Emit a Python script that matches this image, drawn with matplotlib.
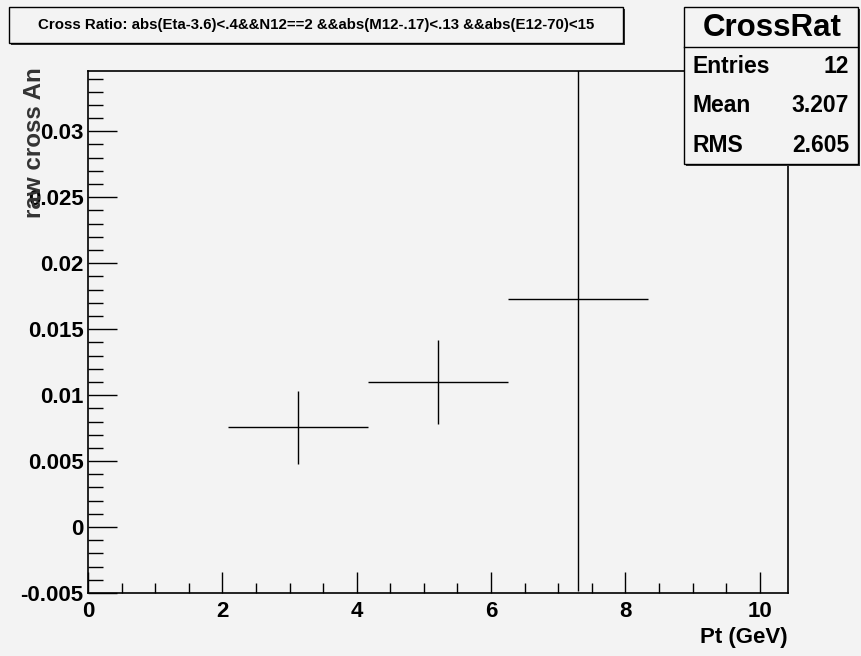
import numpy as np
import matplotlib.pyplot as plt
from matplotlib.patches import Rectangle
from matplotlib.ticker import MultipleLocator

plt.rcParams['font.family'] = ['Liberation Sans', 'DejaVu Sans']
plt.rcParams['font.weight'] = 'bold'

# data (bin centres, half widths, contents, errors)
pt_centres = [3.125, 5.21, 7.29]
pt_halfwidth = [1.04, 1.04, 1.04]
ratio = [0.00755, 0.0110, 0.01727]
ratio_err = [0.00275, 0.0032, 0.0221]

title = "Cross Ratio: abs(Eta-3.6)<.4&&N12==2 &&abs(M12-.17)<.13 &&abs(E12-70)<15"
stat_names = ["Entries", "Mean", "RMS"]
stat_values = ["12", "3.207", "2.605"]

W, H = 862, 656
bg = '#f3f3f3'
fig = plt.figure(figsize=(W/100, H/100), dpi=100, facecolor=bg)

def px(x, y):
    return x / W, 1 - y / H

def box(x0, y0, x1, y1, shadow=2):
    fig.patches.append(Rectangle(px(x0 + shadow, y1 + shadow), (x1 - x0)/W, (y1 - y0)/H,
                                 transform=fig.transFigure, facecolor='#333333',
                                 edgecolor='none'))
    fig.patches.append(Rectangle(px(x0, y1), (x1 - x0)/W, (y1 - y0)/H,
                                 transform=fig.transFigure, facecolor=bg,
                                 edgecolor='black', lw=1))

l, t, r, b = 88, 71, 788, 593
ax = fig.add_axes([l/W, 1 - b/H, (r-l)/W, (b-t)/H], facecolor=bg)
ax.errorbar(pt_centres, ratio, xerr=pt_halfwidth, yerr=ratio_err,
            fmt='none', ecolor='black', elinewidth=1, capsize=0)
ax.set_xlim(0, 10.42)
ax.set_ylim(-0.005, 0.03457)

ax.xaxis.set_major_locator(MultipleLocator(2))
ax.xaxis.set_minor_locator(MultipleLocator(0.5))
ax.yaxis.set_minor_locator(MultipleLocator(0.001))
ax.set_yticks(np.arange(-0.005, 0.0301, 0.005))
ax.set_yticklabels(['-0.005', '0', '0.005', '0.01', '0.015', '0.02', '0.025', '0.03'])
ax.tick_params(which='both', direction='in', top=False, right=False,
               labelsize=16, width=1)
ax.tick_params(axis='y', which='major', length=21, pad=3.3)
ax.tick_params(axis='y', which='minor', length=11)
ax.tick_params(axis='x', which='major', length=15, pad=5.5)
ax.tick_params(axis='x', which='minor', length=7)
for s in ax.spines.values():
    s.set_linewidth(1.2)

fig.text(*px(788, 637), "Pt (GeV)", ha='right', va='center', fontsize=16)
fig.text(*px(34.5, 67), "raw cross An", ha='center', va='top', rotation=90,
         fontsize=17.4, color='#333333')

# title box
box(9.3, 6.7, 623.3, 42.7)
fig.text(*px(316, 25), title, ha='center', va='center', fontsize=10.8)

# stats box
box(684, 6.7, 857.7, 164.3)
fig.add_artist(plt.Line2D([684/W, 857.7/W], [1 - 46.7/H, 1 - 46.7/H], color='black',
                          lw=1, transform=fig.transFigure))
fig.text(*px(772, 28), "CrossRat", ha='center', va='center', fontsize=22.5)
for i, (n, v) in enumerate(zip(stat_names, stat_values)):
    y = 66.7 + i * 39.2
    fig.text(*px(692.7, y), n, ha='left', va='center', fontsize=16.5)
    fig.text(*px(849, y), v, ha='right', va='center', fontsize=16.5)

fig.savefig('out.png', dpi=100, facecolor=bg)
